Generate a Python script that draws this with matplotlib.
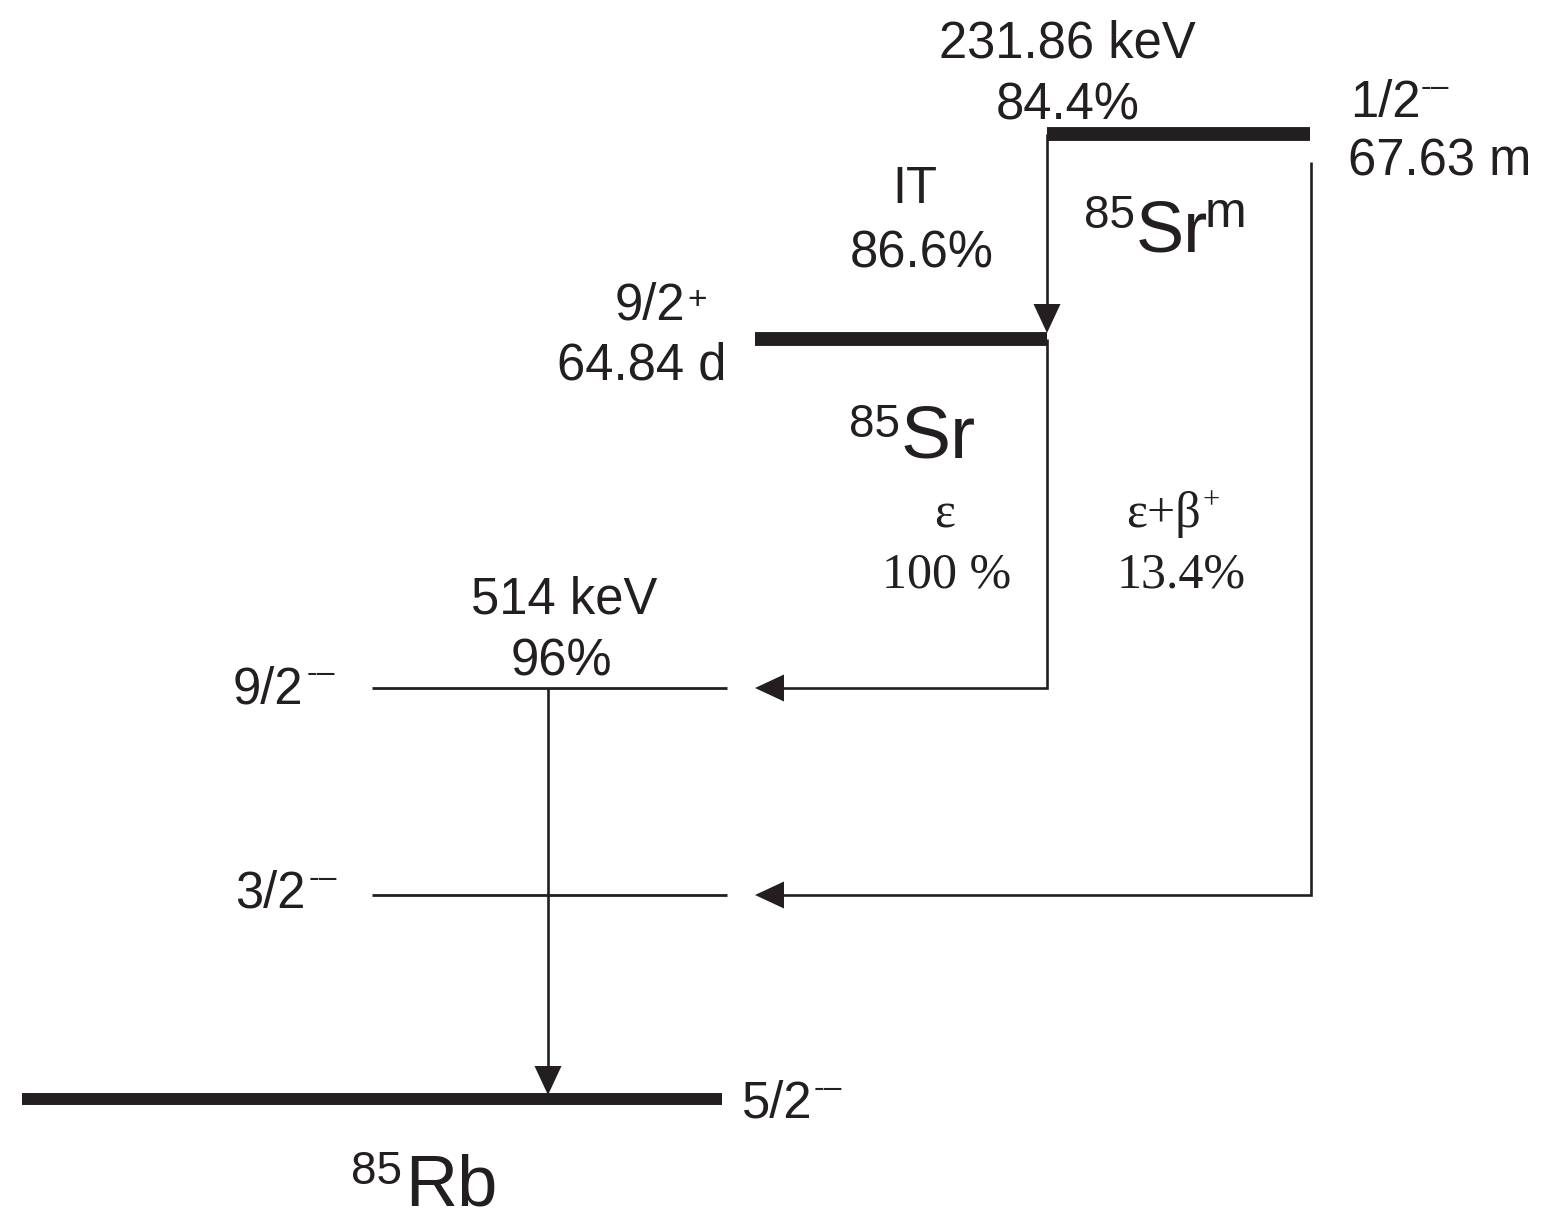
import matplotlib
matplotlib.use("Agg")
import matplotlib.pyplot as plt
from matplotlib.patches import Polygon

# ---- decay-scheme content ----
mass_number = "85"
nuclides = ["Sr", "Sr", "Rb"]            # isomer, parent, daughter
isomer_tag = "m"
level_spins = ["1/2", "9/2", "9/2", "3/2", "5/2"]
level_parities = ["-–", "+", "-–", "-–", "-–"]
half_lives = ["67.63 m", "64.84 d"]
gamma_energies = ["231.86 keV", "514 keV"]
gamma_intensities = ["84.4%", "96%"]
decay_modes = ["IT", "ε", "ε+β"]
decay_branches = ["86.6%", "100 %", "13.4%"]

INK = "#231f20"
SANS = ["Liberation Sans", "DejaVu Sans"]
SERIF = ["Liberation Serif", "DejaVu Serif"]
FS = 36.5       # main label size
FS_SUP = 23     # parity superscript
FS_BIG = 54     # element symbol
FS_MASS = 33    # mass-number superscript
FS_SERIF = 36

fig = plt.figure(figsize=(15.45, 12.21), dpi=100)
ax = fig.add_axes([0, 0, 1, 1])
ax.set_xlim(0, 1545)
ax.set_ylim(1221, 0)
ax.axis("off")


def level(x0, x1, y, lw):
    ax.plot([x0, x1], [y, y], color=INK, lw=lw, solid_capstyle="butt")


def path(xs, ys):
    ax.plot(xs, ys, color=INK, lw=1.9, solid_capstyle="butt",
            solid_joinstyle="miter")


def head(tip, direction, length=29, half=13.5):
    tx, ty = tip
    if direction == "down":
        pts = [(tx, ty), (tx - half, ty - length), (tx + half, ty - length)]
    else:  # left
        pts = [(tx, ty), (tx + length, ty - half), (tx + length, ty + half)]
    ax.add_patch(Polygon(pts, closed=True, color=INK, lw=0))


def txt(x, y, s, size=FS, ha="left", family=SANS):
    ax.text(x, y, s, fontsize=size, ha=ha, va="baseline", color=INK,
            family=family)


# ---- levels ----
x_iso0, x_iso1, y_iso = 1047, 1310, 134
x_par0, x_par1, y_par = 755, 1047, 339
x_exc0, x_exc1 = 372, 727
y_exc1, y_exc2 = 688, 895
x_gs0, x_gs1, y_gs = 22, 722, 1099

level(x_iso0, x_iso1, y_iso, 10)
level(x_par0, x_par1, y_par, 10)
level(x_exc0, x_exc1, y_exc1, 2.0)
level(x_exc0, x_exc1, y_exc2, 2.0)
level(x_gs0, x_gs1, y_gs, 8.6)

# ---- transitions ----
# IT from isomer to parent ground state
path([x_iso0, x_iso0], [y_iso, y_par - 20])
head((x_iso0, y_par - 6), "down")
# EC of parent to 9/2- level
path([x_par1, x_par1, 770], [y_par, y_exc1, y_exc1])
head((755, y_exc1), "left")
# EC+beta+ of isomer to 3/2- level
path([x_iso1 + 1, x_iso1 + 1, 770], [162, y_exc2, y_exc2])
head((755, y_exc2), "left")
# 514 keV gamma
path([548, 548], [y_exc1, y_gs - 25])
head((548, y_gs - 4), "down")

# ---- labels: isomer ----
txt(1067, 58, gamma_energies[0], ha="center")
txt(1068, 119, gamma_intensities[0], ha="center")
txt(1350, 117, level_spins[0])
txt(1421, 96, level_parities[0], size=FS_SUP)
txt(1348, 175, half_lives[0])
txt(1136, 251, nuclides[0], size=52)
txt(1135, 228, mass_number, size=FS_MASS, ha="right")
txt(1205, 227, isomer_tag, size=36)

# IT branch
txt(915, 203, decay_modes[0], ha="center")
txt(922, 268, decay_branches[0], ha="center")

# ---- labels: parent ----
txt(615, 320, level_spins[1])
txt(687, 309, level_parities[1], size=24)
txt(557, 380, half_lives[1])
txt(901, 458, nuclides[1], size=FS_BIG)
txt(900, 437, mass_number, size=FS_MASS, ha="right")

# EC branches (serif)
txt(945, 527, decay_modes[1], size=FS_SERIF, ha="center", family=SERIF)
txt(947, 588, decay_branches[1], size=FS_SERIF, ha="center", family=SERIF)
txt(1126, 527, decay_modes[2], size=FS_SERIF, family=SERIF)
txt(1203, 508, "+", size=22, family=SERIF)
txt(1181, 588, decay_branches[2], size=FS_SERIF, ha="center", family=SERIF)

# ---- labels: daughter ----
txt(564, 614, gamma_energies[1], ha="center")
txt(561, 676, gamma_intensities[1], ha="center")
txt(233, 703, level_spins[2])
txt(307, 682, level_parities[2], size=FS_SUP)
txt(235, 908, level_spins[3])
txt(309, 887, level_parities[3], size=FS_SUP)
txt(742, 1118, level_spins[4])
txt(814, 1097, level_parities[4], size=FS_SUP)
txt(405, 1205, nuclides[2], size=52)
txt(402, 1184, mass_number, size=FS_MASS, ha="right")

fig.savefig("out.png", dpi=100, facecolor="white")
